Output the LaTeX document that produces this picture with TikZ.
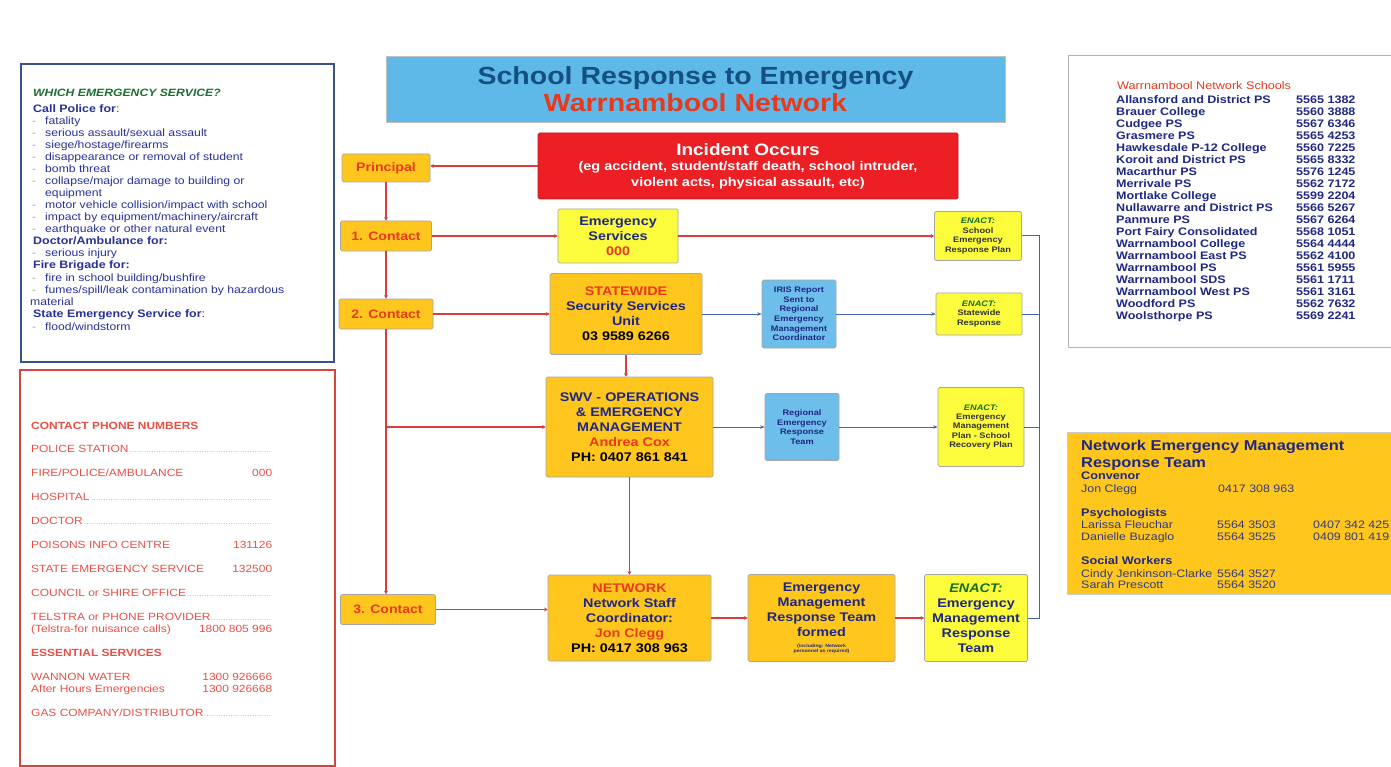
\documentclass[tikz,border=0pt]{standalone}
\usepackage{fontspec}
\setmainfont{Liberation Sans}[FakeStretch=1.15]
\usetikzlibrary{arrows.meta}

\definecolor{boxorange}{RGB}{255,198,30}
\definecolor{boxyellow}{RGB}{252,252,60}
\definecolor{skyblue}{RGB}{110,190,235}
\definecolor{titleblue}{RGB}{95,185,232}
\definecolor{titlenavy}{RGB}{20,80,130}
\definecolor{incidentred}{RGB}{236,32,36}
\definecolor{navy}{RGB}{30,40,130}
\definecolor{redtext}{RGB}{232,57,30}
\definecolor{linered}{RGB}{220,60,60}
\definecolor{lineblue}{RGB}{65,100,170}
\definecolor{enactgreen}{RGB}{20,110,40}
\definecolor{panelblue}{RGB}{60,80,140}
\definecolor{panelred}{RGB}{210,70,60}
\definecolor{phonered}{RGB}{232,80,70}
\definecolor{svcblue}{RGB}{40,50,150}
\definecolor{svcgreen}{RGB}{30,110,50}

\newcommand{\fsz}[2]{\fontsize{#1}{#2}\selectfont}
\newcommand{\bul}{\makebox[13pt][l]{\textcolor{black!35}{-}}}
\newcommand{\leaderdots}{\leaders\hbox to 2.4pt{\hss\fsz{6}{6}.\hss}\hfill}
\newcommand{\phoneline}[2]{\makebox[241pt][l]{#1\hfill #2}}
\newcommand{\phoneblank}[1]{\makebox[241pt][l]{#1\leaderdots}}

\tikzstyle{panel}=[rectangle, line width=1.2pt, inner sep=0pt]
\tikzstyle{box}=[rectangle, draw=black!35, line width=0.7pt, rounded corners=1.5pt, align=center, inner sep=0pt, text=navy]
\tikzstyle{orange box}=[box, fill=boxorange]
\tikzstyle{yellow box}=[box, fill=boxyellow]
\tikzstyle{blue box}=[box, fill=skyblue]
\tikzstyle{contact}=[orange box, text=redtext, font=\bfseries\fsz{12.2}{14}, minimum width=91pt, minimum height=30pt]
\tikzstyle{big}=[font=\bfseries\fsz{12.5}{15}]
\tikzstyle{tiny}=[font=\bfseries\fsz{8}{9.6}]
\tikzstyle{red edge}=[draw=linered, line width=1.6pt, -{Stealth[length=3.5pt,width=4pt]}]
\tikzstyle{blue edge}=[draw=lineblue, line width=0.8pt, -{Stealth[length=4.5pt,width=3.5pt]}]
\tikzstyle{rail}=[draw=lineblue, line width=1pt]
\tikzstyle{svc}=[anchor=base west, inner sep=0pt, text=svcblue, font=\fsz{10.6}{12}]
\tikzstyle{svc head}=[svc, font=\bfseries\fsz{10.8}{12}]
\tikzstyle{phone}=[anchor=base west, inner sep=0pt, text=phonered, font=\fsz{10.4}{12}]
\tikzstyle{school}=[anchor=base west, inner sep=0pt, text=navy, font=\bfseries\fsz{10.9}{12}]
\tikzstyle{team}=[anchor=base west, inner sep=0pt, text=navy!80!gray, font=\fsz{10.8}{12}]
\tikzstyle{team head}=[team, text=navy, font=\bfseries\fsz{11}{12}]

\begin{document}
\begin{tikzpicture}[x=1pt,y=-1pt]
    \useasboundingbox (0,0) rectangle (1391,767);
    \fill[white] (0,0) rectangle (1391,767);

    % The four panels round the chart
    \node[panel, draw=panelblue, minimum width=313pt, minimum height=298pt] (servicebox) at (177.5,213) {};
    \node[panel, draw=panelred, minimum width=315pt, minimum height=396pt] (phonebox) at (177.5,568) {};
    \node[panel, draw=black!30, line width=1pt, minimum width=340pt, minimum height=291pt] (schoolbox) at (1238,201.5) {};
    \node[panel, fill=boxorange, draw=black!20, line width=0.8pt, minimum width=340pt, minimum height=162pt] (teambox) at (1237,513) {};

    % Which emergency service
    \node[svc, text=svcgreen, font=\bfseries\itshape\fsz{10.6}{12}] (whichhead) at (33,97) {WHICH EMERGENCY SERVICE?};
    \node[svc head] (policehead) at (33,113) {Call Police for\textmd{:}};
    \foreach \txt [count=\i] in {fatality, serious assault/sexual assault, siege/hostage/firearms, disappearance or removal of student, bomb threat, collapse/major damage to building or}
        \node[svc] (police\i) at (32,113+12*\i) {\bul\txt};
    \node[svc] (police7) at (45,197) {equipment};
    \foreach \txt [count=\i from 8] in {motor vehicle collision/impact with school, impact by equipment/machinery/aircraft, earthquake or other natural event}
        \node[svc] (police\i) at (32,113+12*\i) {\bul\txt};
    \node[svc head] (doctorhead) at (33,245) {Doctor/Ambulance for:};
    \node[svc] (doctor1) at (32,257) {\bul serious injury};
    \node[svc head] (firehead) at (33,269) {Fire Brigade for:};
    \node[svc] (fire1) at (32,281) {\bul fire in school building/bushfire};
    \node[svc] (fire2) at (32,293) {\bul fumes/spill/leak contamination by hazardous};
    \node[svc] (fire3) at (30,305) {material};
    \node[svc head] (seshead) at (33,317) {State Emergency Service for\textmd{:}};
    \node[svc] (ses1) at (32,330) {\bul flood/windstorm};

    % Contact phone numbers
    \node[phone, font=\bfseries\fsz{10.4}{12}] (phonehead) at (31,429) {CONTACT PHONE NUMBERS};
    \node[phone] (phone1) at (31,452) {\phoneblank{POLICE STATION}};
    \node[phone] (phone2) at (31,476) {\phoneline{FIRE/POLICE/AMBULANCE}{000}};
    \node[phone] (phone3) at (31,500) {\phoneblank{HOSPITAL}};
    \node[phone] (phone4) at (31,524) {\phoneblank{DOCTOR}};
    \node[phone] (phone5) at (31,548) {\phoneline{POISONS INFO CENTRE}{131126}};
    \node[phone] (phone6) at (31,572) {\phoneline{STATE EMERGENCY SERVICE}{132500}};
    \node[phone] (phone7) at (31,596) {\phoneblank{COUNCIL or SHIRE OFFICE}};
    \node[phone] (phone8) at (31,620) {\phoneblank{TELSTRA or PHONE PROVIDER}};
    \node[phone] (phone9) at (31,632) {\phoneline{(Telstra-for nuisance calls)}{1800 805 996}};
    \node[phone, font=\bfseries\fsz{10.4}{12}] (essentialhead) at (31,656) {ESSENTIAL SERVICES};
    \node[phone] (phone10) at (31,680) {\phoneline{WANNON WATER}{1300 926666}};
    \node[phone] (phone11) at (31,692) {\phoneline{After Hours Emergencies}{1300 926668}};
    \node[phone] (phone12) at (31,716) {\phoneblank{GAS COMPANY/DISTRIBUTOR}};

    % Network schools
    \node[school, text=redtext, font=\fsz{11}{12}] (schoolhead) at (1117,90) {Warrnambool Network Schools};
    \foreach \sname/\snum [count=\i] in {Allansford and District PS/5565 1382, Brauer College/5560 3888, Cudgee PS/5567 6346, Grasmere PS/5565 4253, Hawkesdale P-12 College/5560 7225, Koroit and District PS/5565 8332, Macarthur PS/5576 1245, Merrivale PS/5562 7172, Mortlake College/5599 2204, Nullawarre and District PS/5566 5267, Panmure PS/5567 6264, Port Fairy Consolidated/5568 1051, Warrnambool College/5564 4444, Warrnambool East PS/5562 4100, Warrnambool PS/5561 5955, Warrnambool SDS/5561 1711, Warrnambool West PS/5561 3161, Woodford PS/5562 7632, Woolsthorpe PS/5569 2241}
    {
        \node[school] (school\i) at (1116,91+12.05*\i) {\sname};
        \node[school] (number\i) at (1296,91+12.05*\i) {\snum};
    }

    % Network emergency management response team
    \node[team head, font=\bfseries\fsz{14.3}{16}] (teamhead) at (1081,450) {Network Emergency Management};
    \node[team head, font=\bfseries\fsz{14.3}{16}] (teamhead2) at (1081,467) {Response Team};
    \node[team head] (convenor) at (1081,479) {Convenor};
    \node[team] (member1) at (1081,492) {Jon Clegg};
    \node[team] (member1ph) at (1218,492) {0417 308 963};
    \node[team head] (psych) at (1081,516) {Psychologists};
    \node[team] (member2) at (1081,528) {Larissa Fleuchar};
    \node[team] (member2ph) at (1217,528) {5564 3503};
    \node[team] (member2mob) at (1313,528) {0407 342 425};
    \node[team] (member3) at (1081,540) {Danielle Buzaglo};
    \node[team] (member3ph) at (1217,540) {5564 3525};
    \node[team] (member3mob) at (1313,540) {0409 801 419};
    \node[team head] (social) at (1081,564) {Social Workers};
    \node[team] (member4) at (1081,577) {Cindy Jenkinson-Clarke};
    \node[team] (member4ph) at (1217,577) {5564 3527};
    \node[team] (member5) at (1081,588) {Sarah Prescott};
    \node[team] (member5ph) at (1217,588) {5564 3520};

    % Title and incident
    \node[box, fill=titleblue, draw=black!25, rounded corners=0pt, minimum width=619pt, minimum height=66pt, text=titlenavy, font=\bfseries\fsz{24.8}{27}] (title) at (695.5,89) {School Response to Emergency\\\textcolor{redtext}{Warrnambool Network}};
    \node[box, fill=incidentred, draw=incidentred!80!black, text=white, minimum width=420pt, minimum height=66pt, font=\bfseries\fsz{12.6}{15.5}] (incident) at (748,166) {{\fsz{16.5}{16.5}Incident Occurs}\\(eg accident, student/staff death, school intruder,\\violent acts, physical assault, etc)};

    % Principal and the contact steps
    \node[contact, minimum width=88pt, minimum height=28pt, font=\bfseries\fsz{12.3}{13}] (principal) at (386,168) {Principal};
    \node[contact] (contact1) at (386,236) {1. Contact};
    \node[contact, minimum width=94pt] (contact2) at (386,314) {2. Contact};
    \node[contact, minimum width=95pt] (contact3) at (388,609.5) {3. Contact};

    % Services column
    \node[yellow box, big, minimum width=120pt, minimum height=54pt] (services) at (618,236) {Emergency\\Services\\\textcolor{redtext}{000}};
    \node[orange box, big, minimum width=152pt, minimum height=81pt] (statewide) at (626,314) {\textcolor{redtext}{STATEWIDE}\\Security Services\\Unit\\\textcolor{black}{03 9589 6266}};
    \node[orange box, big, minimum width=167pt, minimum height=100pt] (swv) at (629.5,427) {SWV - OPERATIONS\\\& EMERGENCY\\MANAGEMENT\\\textcolor{redtext}{Andrea Cox}\\\textcolor{black}{PH: 0407 861 841}};
    \node[orange box, big, minimum width=163pt, minimum height=86pt] (network) at (629.5,618) {\textcolor{redtext}{NETWORK}\\Network Staff\\Coordinator:\\\textcolor{redtext}{Jon Clegg}\\\textcolor{black}{PH: 0417 308 963}};

    % Middle column
    \node[blue box, tiny, minimum width=74pt, minimum height=68pt] (iris) at (799,314) {IRIS Report\\Sent to\\Regional\\Emergency\\Management\\Coordinator};
    \node[blue box, tiny, minimum width=74pt, minimum height=67pt] (regional) at (802,427) {Regional\\Emergency\\Response\\Team};
    \node[orange box, big, minimum width=147pt, minimum height=87pt] (teamformed) at (821.5,618) {Emergency\\Management\\Response Team\\formed\\[-4pt]\parbox[t]{70pt}{\centering\fsz{4.5}{5.5}(including: Network personnel as required)}};

    % ENACT column
    \node[yellow box, tiny, text=black!80, minimum width=87pt, minimum height=49pt] (schoolplan) at (978,236) {\textcolor{enactgreen}{\textit{ENACT:}}\\School\\Emergency\\Response Plan};
    \node[yellow box, tiny, text=black!80, minimum width=86pt, minimum height=42pt] (statewideplan) at (979,314) {\textcolor{enactgreen}{\textit{ENACT:}}\\Statewide\\Response};
    \node[yellow box, tiny, text=black!80, font=\bfseries\fsz{8}{9.2}, minimum width=86pt, minimum height=79pt] (recoveryplan) at (981,427) {\textcolor{enactgreen}{\textit{ENACT:}}\\Emergency\\Management\\Plan - School\\Recovery Plan};
    \node[yellow box, big, minimum width=103pt, minimum height=87pt] (teamplan) at (976,618) {\textcolor{enactgreen}{\textit{ENACT:}}\\Emergency\\Management\\Response\\Team};

    % Red links down the left and across
    \draw[red edge] (incident.west) -- (incident.west -| principal.east);
    \draw[red edge] (principal) -- (contact1);
    \draw[red edge] (contact1) -- (contact2);
    \draw[red edge] (contact2.south) -- (contact2.south |- contact3.north);
    \coordinate (split) at (contact2.south |- swv.west);
    \draw[red edge] (split) -- (swv.west);
    \draw[red edge] (contact1) -- (services);
    \draw[red edge] (services) -- (schoolplan);
    \draw[red edge] (contact2) -- (statewide);
    \draw[red edge] (statewide.south) -- (statewide.south |- swv.north);
    \draw[red edge] (swv.south) -- (swv.south |- network.north);
    \draw[red edge] (contact3.east) -- (contact3.east -| network.west);
    \draw[red edge] (network) -- (teamformed);
    \draw[red edge] (teamformed) -- (teamplan);

    % Blue report links and the rail on the right
    \draw[blue edge] (statewide) -- (iris);
    \draw[blue edge] (iris) -- (statewideplan);
    \draw[blue edge] (swv) -- (regional);
    \draw[blue edge] (regional) -- (recoveryplan);
    \coordinate (rail) at (1039,236);
    \draw[rail] (schoolplan.east) -- (rail) |- (teamplan.east);
    \draw[rail] (statewideplan.east) -- (statewideplan.east -| rail);
    \draw[rail] (recoveryplan.east) -- (recoveryplan.east -| rail);
\end{tikzpicture}
\end{document}
